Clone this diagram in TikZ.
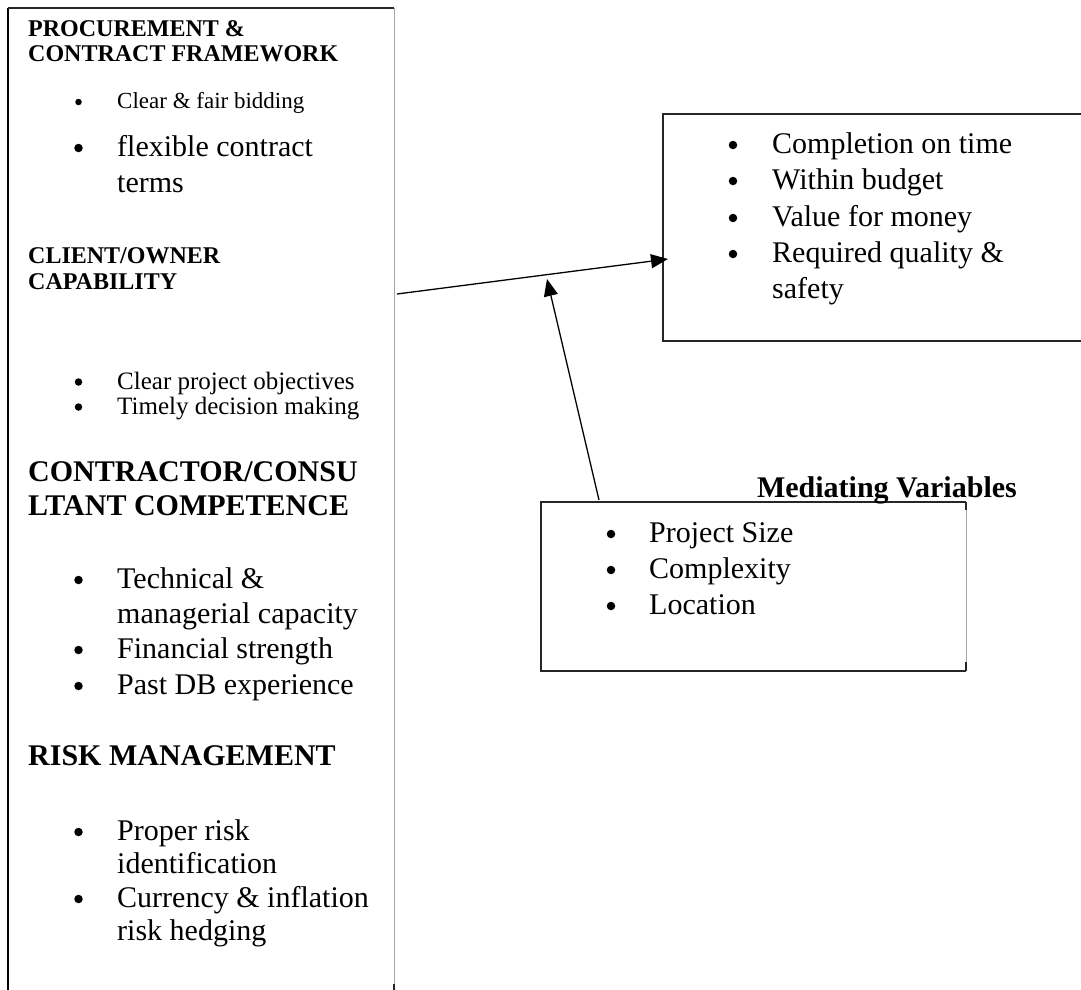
\documentclass[tikz,border=0pt]{standalone}
\usepackage{fontspec}
\setmainfont{Liberation Serif}
\usetikzlibrary{arrows.meta,calc}

\tikzset{
  frame/.style={rectangle, inner sep=0pt, outer sep=0pt},
  darkedge/.style={draw=black!85, line width=1.5pt},
  leftedge/.style={draw=black, line width=2pt},
  lightedge/.style={draw=black!35, line width=0.9pt},
  flow/.style={draw=black, line width=1.3pt, -{Triangle[length=17pt,width=14pt]}},
  hd/.style={anchor=base west, inner sep=0pt, font=\bfseries\fontsize{#1}{#1}\selectfont},
  tx/.style={anchor=base west, inner sep=0pt, font=\fontsize{#1}{#1}\selectfont},
  bul/.style={circle, fill=black, inner sep=0pt, minimum size=#1},
}

\begin{document}
\begin{tikzpicture}[x=1pt,y=-1pt]
\useasboundingbox (0,0) rectangle (1081,989);
\clip (0,0) rectangle (1081,989);

% ---- frames ----
\node[frame, anchor=north west, minimum width=386pt, minimum height=986pt] (drivers) at (8,8) {};
\node[frame, anchor=north west, minimum width=440pt, minimum height=227pt] (outcomes) at (663,114) {};
\node[frame, anchor=north west, minimum width=425pt, minimum height=169pt] (mediators) at (541,502) {};

\draw[leftedge] (drivers.south west) -- (drivers.north west);
\draw[darkedge] (drivers.north west) -- (drivers.north east);
\draw[lightedge] (drivers.north east) -- (drivers.south east);
\draw[darkedge] (drivers.south east) -- ++(0,-10);

\draw[darkedge] (outcomes.north east) -- (outcomes.north west) -- (outcomes.south west) -- (outcomes.south east);

\draw[darkedge] (mediators.north east) -- (mediators.north west) -- (mediators.south west) -- (mediators.south east);
\draw[lightedge] (mediators.north east) -- (mediators.south east);
\draw[darkedge] (mediators.north east) -- ++(0,8);
\draw[darkedge] (mediators.south east) -- ++(0,-9);

% ---- success factors (left column) ----
\node[hd=24] (procA) at (28,36) {PROCUREMENT \&};
\node[hd=24] (procB) at (28,61) {CONTRACT FRAMEWORK};
\node[bul=6.5] (procDot1) at (78.5,102) {};
\node[tx=23] (proc1) at (117,108) {Clear \& fair bidding};
\node[bul=8.5] (procDot2) at (78.5,148) {};
\node[tx=30] (proc2a) at (117,156) {flexible contract};
\node[tx=30] (proc2b) at (117,192) {terms};

\node[hd=24] (clientA) at (28,263) {CLIENT/OWNER};
\node[hd=24] (clientB) at (28,289) {CAPABILITY};
\node[bul=7.5] (clientDot1) at (78.5,382) {};
\node[tx=25] (client1) at (117,389) {Clear project objectives};
\node[bul=7.5] (clientDot2) at (78.5,407) {};
\node[tx=25] (client2) at (117,414) {Timely decision making};

\node[hd=30] (contA) at (28,481) {CONTRACTOR/CONSU};
\node[hd=30] (contB) at (28,515) {LTANT COMPETENCE};
\node[bul=8.5] (contDot1) at (78.5,580) {};
\node[tx=30] (cont1a) at (117,588) {Technical \&};
\node[tx=30] (cont1b) at (117,623) {managerial capacity};
\node[bul=8.5] (contDot2) at (78.5,650) {};
\node[tx=30] (cont2) at (117,658) {Financial strength};
\node[bul=8.5] (contDot3) at (78.5,686) {};
\node[tx=30] (cont3) at (117,694) {Past DB experience};

\node[hd=30] (riskA) at (28,765) {RISK MANAGEMENT};
\node[bul=8.5] (riskDot1) at (78.5,832) {};
\node[tx=30] (risk1a) at (117,840) {Proper risk};
\node[tx=30] (risk1b) at (117,873) {identification};
\node[bul=8.5] (riskDot2) at (78.5,899) {};
\node[tx=30] (risk2a) at (117,907) {Currency \& inflation};
\node[tx=30] (risk2b) at (117,940) {risk hedging};

% ---- project outcomes ----
\node[bul=8.5] (outDot1) at (733,145) {};
\node[tx=30] (out1) at (772,153) {Completion on time};
\node[bul=8.5] (outDot2) at (733,181) {};
\node[tx=30] (out2) at (772,189) {Within budget};
\node[bul=8.5] (outDot3) at (733,218) {};
\node[tx=30] (out3) at (772,226) {Value for money};
\node[bul=8.5] (outDot4) at (733,254) {};
\node[tx=30] (out4a) at (772,262) {Required quality \&};
\node[tx=30] (out4b) at (772,298) {safety};

% ---- mediating variables ----
\node[hd=30, anchor=base east] (medTitle) at (1017,497) {Mediating Variables};
\node[bul=8.5] (medDot1) at (611,534) {};
\node[tx=30] (med1) at (649,542) {Project Size};
\node[bul=8.5] (medDot2) at (611,570) {};
\node[tx=30] (med2) at (649,578) {Complexity};
\node[bul=8.5] (medDot3) at (611,606) {};
\node[tx=30] (med3) at (649,614) {Location};

% ---- connectors ----
\coordinate (flowStart) at ($(drivers.north east)+(3,286)$);
\coordinate (flowEnd) at ($(outcomes.north west)+(5,145)$);
\draw[flow] (flowStart) -- (flowEnd);
\coordinate (onFlow) at (547,279);
\draw[flow] ($(mediators.north west)+(58,-2)$) -- (onFlow);

\end{tikzpicture}
\end{document}
